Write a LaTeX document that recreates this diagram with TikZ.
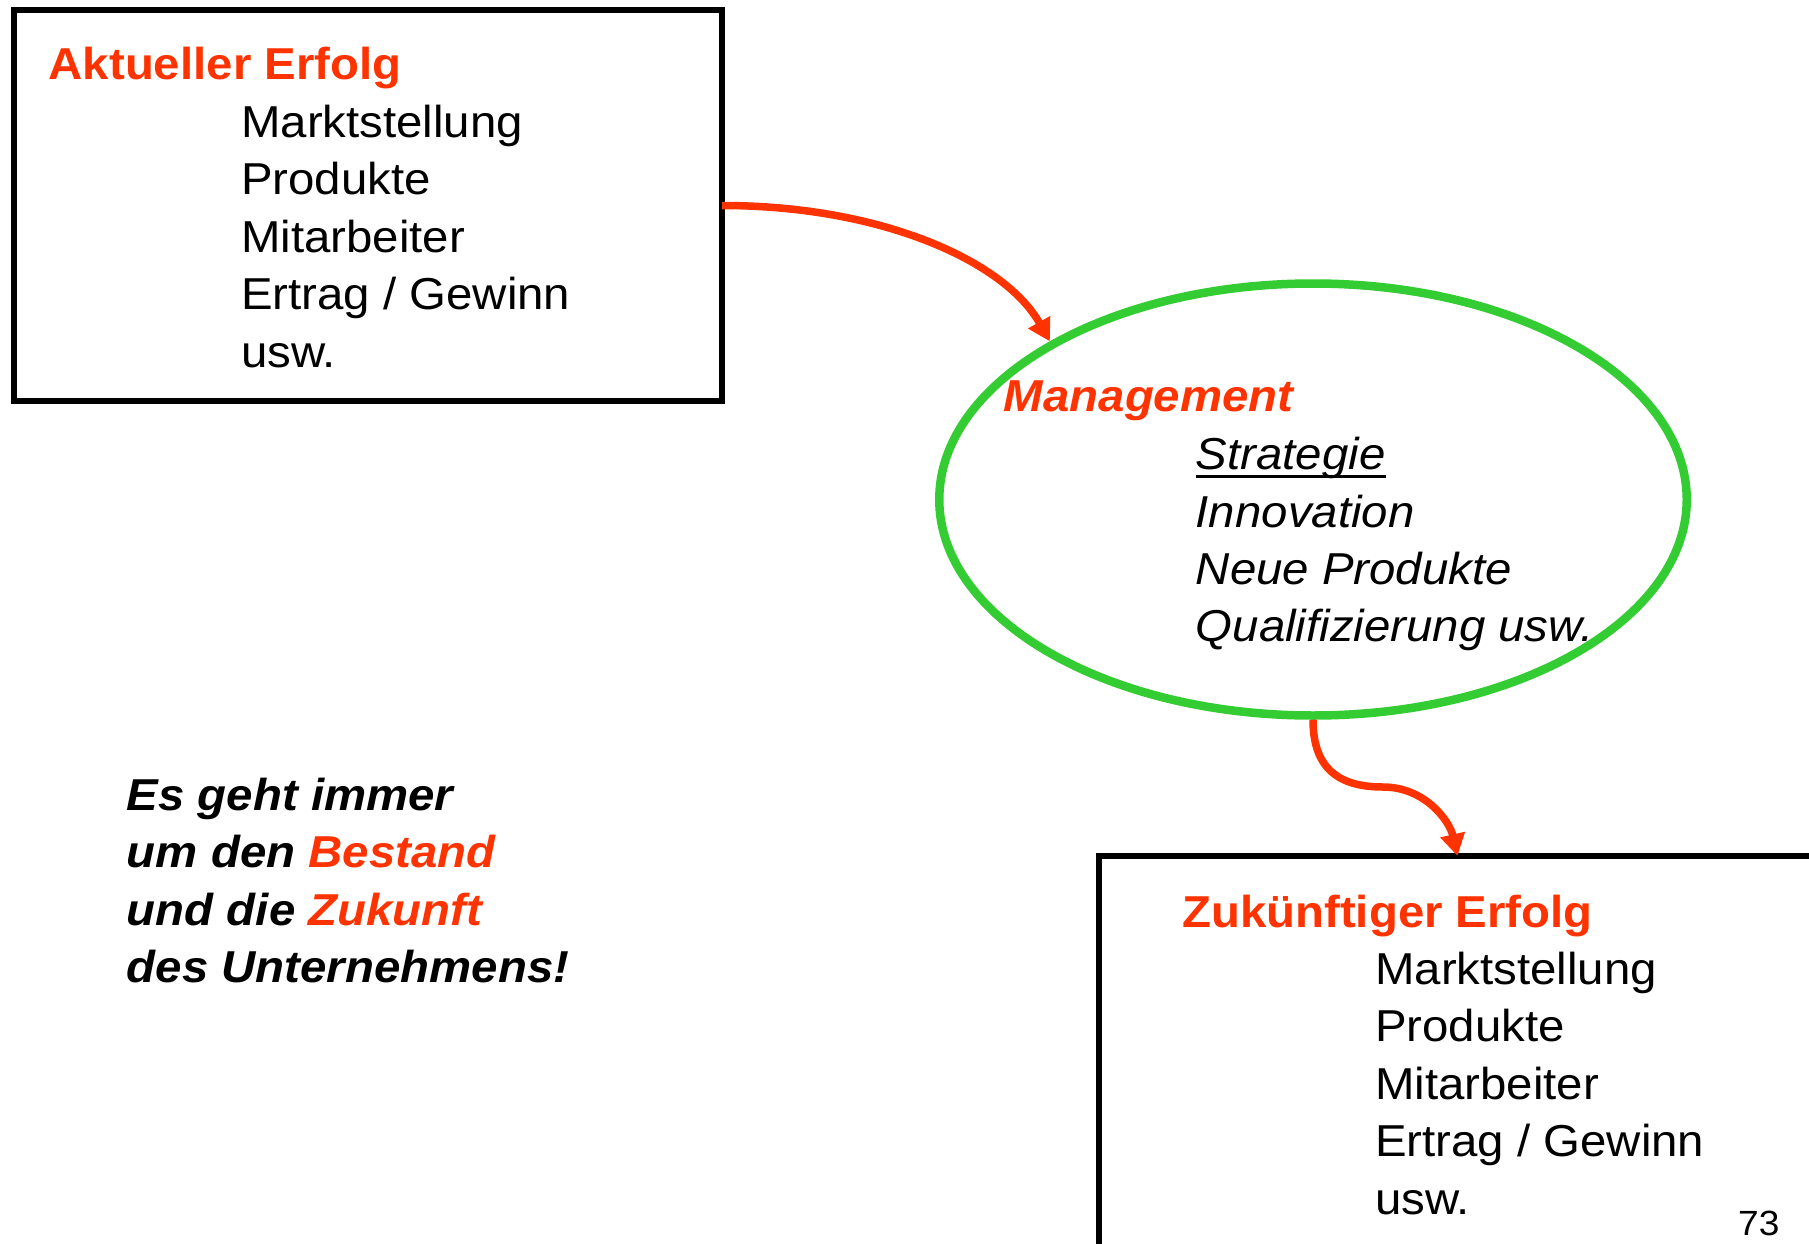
\documentclass[tikz,border=0pt]{standalone}
\usepackage{fontspec}
\setmainfont[FakeStretch=1.06]{Liberation Sans}
\usetikzlibrary{arrows.meta,shapes.geometric,calc}
\definecolor{ored}{HTML}{FF3300}
\definecolor{lgreen}{HTML}{33CC33}
\begin{document}
\begin{tikzpicture}[x=1pt,y=-1pt,
  txt/.style={anchor=base west,inner sep=0pt,font=\fontsize{44.7}{53}\selectfont},
  head/.style={anchor=base west,inner sep=0pt,text=ored,font=\fontsize{44.7}{53}\selectfont\bfseries},
  ital/.style={anchor=base west,inner sep=0pt,font=\fontsize{44.7}{53}\selectfont\itshape},
  bithead/.style={anchor=base west,inner sep=0pt,text=ored,font=\fontsize{44.7}{53}\selectfont\bfseries\itshape},
  bit/.style={anchor=base west,inner sep=0pt,font=\fontsize{44.7}{53}\selectfont\bfseries\itshape},
  small/.style={anchor=base west,inner sep=0pt,font=\fontsize{35}{42}\selectfont},
  frame/.style={draw=black,line width=6pt,rectangle,inner sep=0pt,outer sep=0pt},
  oval/.style={draw=lgreen,line width=8.5pt,ellipse,inner sep=0pt},
  link/.style={draw=ored,line width=7.5pt,-{Triangle[width=24pt,length=22pt]}}]

\fill[white] (0,0) rectangle (1809,1244);
\useasboundingbox (0,0) rectangle (1809,1244);

% boxes and ellipse
\node[frame,minimum width=708.5pt,minimum height=391pt] (box1) at (367.75,205.5) {};
\node[oval,minimum width=747.5pt,minimum height=432pt] (ell) at (1313,499.5) {};
\node[frame,minimum width=731pt,minimum height=414pt] (box2) at (1464.5,1063) {};

% top-left box text
\node[head] (h1) at (48.5,80) {Aktueller Erfolg};
\node[txt] (a1) at (241,137.5) {Marktstellung};
\node[txt] (a2) at (241,194.9) {Produkte};
\node[txt] (a3) at (241,252.3) {Mitarbeiter};
\node[txt] (a4) at (241,309.7) {Ertrag / Gewinn};
\node[txt] (a5) at (241,367.1) {usw.};

% ellipse text
\node[bithead] (h2) at (1003.7,411.5) {Management};
\node[ital] (m1) at (1195.6,469.7) {Strategie};
\draw[line width=3.3pt] ([yshift=-7pt]m1.base west) -- ([yshift=-7pt]m1.base east);
\node[ital] (m2) at (1195.6,527) {Innovation};
\node[ital] (m3) at (1195.6,584.3) {Neue Produkte};
\node[ital] (m4) at (1195.6,641.6) {Qualifizierung usw.};

% bottom box text
\node[head] (h3) at (1182,927) {Zukünftiger Erfolg};
\node[txt] (b1) at (1375,984) {Marktstellung};
\node[txt] (b2) at (1375,1041.5) {Produkte};
\node[txt] (b3) at (1375,1099) {Mitarbeiter};
\node[txt] (b4) at (1375,1156.5) {Ertrag / Gewinn};
\node[txt] (b5) at (1375,1214) {usw.};
\node[small] (pg) at (1738,1235) {73};

% left statement
\node[bit] (s1) at (126.7,810) {Es geht immer};
\node[bit] (s2) at (126.7,867.6) {um den \textcolor{ored}{Bestand}};
\node[bit] (s3) at (126.7,925.2) {und die \textcolor{ored}{Zukunft}};
\node[bit] (s4) at (126.7,982.8) {des Unternehmens!};

% connectors
\coordinate (bend) at (1383,787);
\coordinate (t2) at ([xshift=-7pt]box2.north);
\draw[link] (box1.east) .. controls +(160,0) and +(-45,-80) .. (ell.149);
\draw[link] (ell.south) .. controls +(0,50) and +(-43,0) .. (bend)
  .. controls +(42,0) and +(-8,-35) .. (t2);
\end{tikzpicture}
\end{document}
